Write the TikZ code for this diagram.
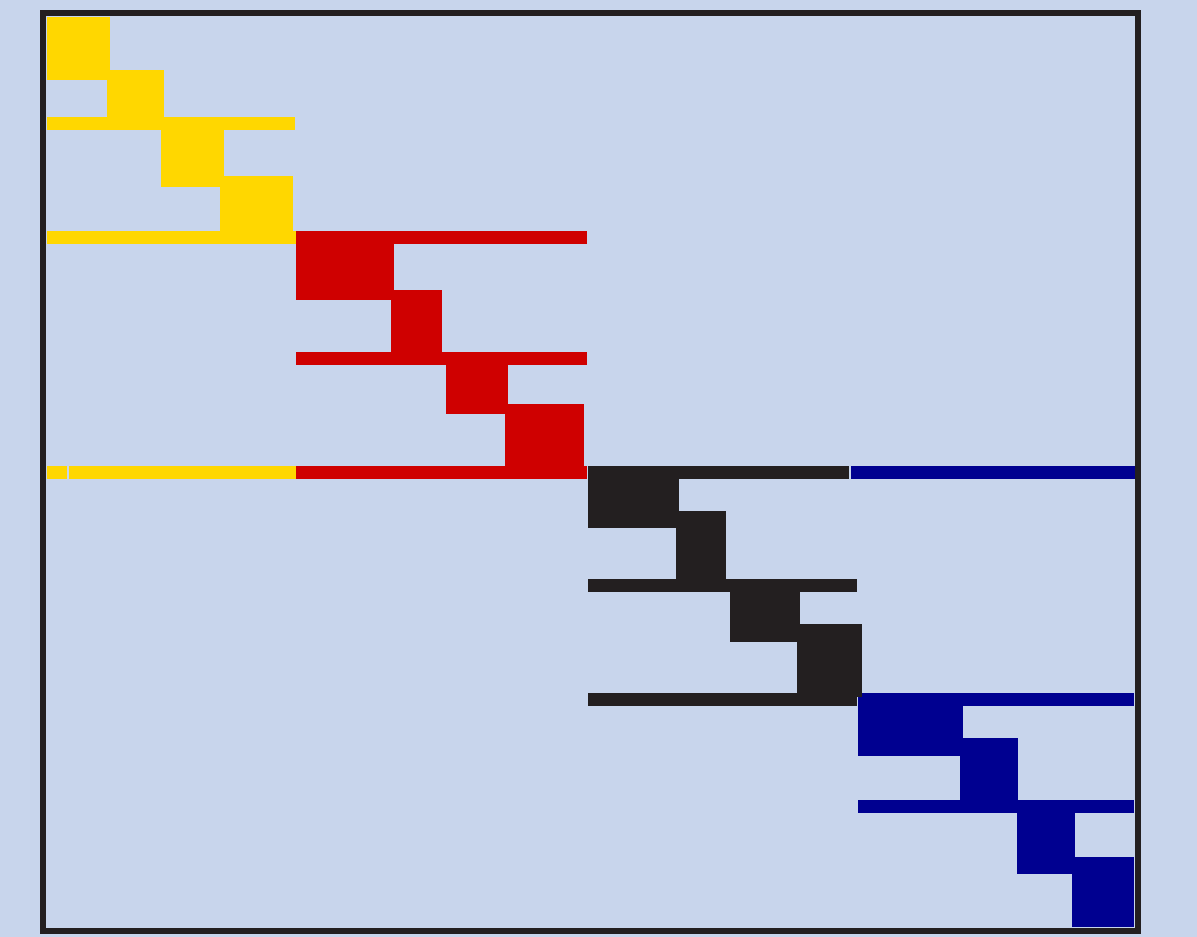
\documentclass[tikz,border=0pt]{standalone}
\definecolor{fondo}{HTML}{C8D5EC}
\definecolor{amarillo}{HTML}{FFD700}
\definecolor{rojo}{HTML}{CF0000}
\definecolor{negro}{HTML}{231F20}
\definecolor{azul}{HTML}{000090}
\begin{document}
\begin{tikzpicture}[
    x=0.25mm, y=-0.25mm,
    marco/.style={draw=negro, line width=1.5mm},
    am/.style={fill=amarillo},
    ro/.style={fill=rojo},
    ne/.style={fill=negro},
    az/.style={fill=azul}
]

    % Fondo
    \useasboundingbox[fill=fondo] (0,0) rectangle (1197,937);

    % Bloques amarillos
    \foreach \a/\b/\c/\d in {47/17/110/80, 107/70/164/117, 47/117/295/130,
        161/130/224/187, 220/176/293/231, 47/231/296/244,
        47/466/67/479, 69/466/296/479}
        \path[am] (\a,\b) rectangle (\c,\d);

    % Bloques rojos
    \foreach \a/\b/\c/\d in {296/231/587/244, 296/231/394/300, 391/290/442/352,
        296/352/587/365, 446/365/508/414, 505/404/584/466, 296/466/587/479}
        \path[ro] (\a,\b) rectangle (\c,\d);

    % Bloques azules
    \foreach \a/\b/\c/\d in {851/466/1135/479, 858/693/1134/706, 858/693/963/756,
        960/738/1018/800, 858/800/1134/813, 1017/813/1075/874, 1072/857/1134/927}
        \path[az] (\a,\b) rectangle (\c,\d);

    % Bloques negros
    \foreach \a/\b/\c/\d in {588/466/849/479, 588/466/679/528, 676/511/726/579,
        588/579/857/592, 730/592/800/642, 797/624/862/697, 588/693/857/706}
        \path[ne] (\a,\b) rectangle (\c,\d);

    % Marco
    \draw[marco] (43,13) rectangle (1138,931);

\end{tikzpicture}
\end{document}
